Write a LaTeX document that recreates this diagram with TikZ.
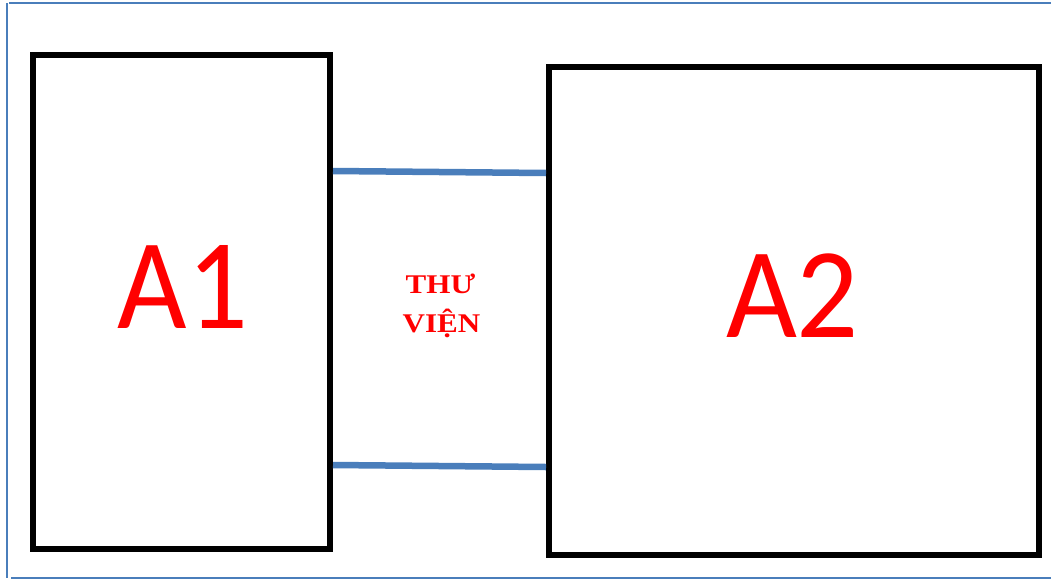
\documentclass[tikz,border=0pt]{standalone}
\usepackage{graphicx}
\usepackage{fontspec}
\newfontfamily\calfont{Carlito}
\newfontfamily\tnrfont{Liberation Serif}
\definecolor{frameblue}{RGB}{74,126,187}
\definecolor{txtred}{RGB}{255,0,0}
\tikzset{
  roombox/.style={draw=black, line width=6pt, inner sep=0pt, fill=white},
  biglabel/.style={text=txtred, font=\calfont\fontsize{129}{129}\selectfont, anchor=base, inner sep=0pt},
  smalllabel/.style={text=txtred, font=\tnrfont\bfseries\fontsize{27}{39}\selectfont, anchor=base, inner sep=0pt},
  corridor/.style={draw=frameblue, line width=6.5pt},
  frameline/.style={draw=frameblue, line width=2pt}
}
\begin{document}
\begin{tikzpicture}[x=1pt,y=-1pt]
\useasboundingbox (0,0) rectangle (1051,581);
% frame
\coordinate (fl1) at (7,3);
\coordinate (fl2) at (7,578);
\coordinate (ft1) at (9,3);
\coordinate (ft2) at (1051,3);
\coordinate (fb1) at (11,578);
\coordinate (fb2) at (1051,578);
\draw[frameline] (fl1) -- (fl2);
\draw[frameline] (ft1) -- (ft2);
\draw[frameline] (fb1) -- (fb2);
% rooms
\node[roombox, minimum width=297pt, minimum height=494pt] (a1) at (181.5,302) {};
\node[roombox, minimum width=490pt, minimum height=488pt] (a2) at (794,311) {};
% corridor lines
\coordinate (c1a) at (a1.east |- 0,171);
\coordinate (c1b) at (a2.west |- 0,173);
\coordinate (c2a) at (a1.east |- 0,465);
\coordinate (c2b) at (a2.west |- 0,467);
\draw[corridor] (c1a) -- (c1b);
\draw[corridor] (c2a) -- (c2b);
% labels
\node[biglabel] (t1) at (183,328) {\scalebox{0.93}[1]{A1}};
\node[biglabel] (t2) at (792.5,337) {\scalebox{0.95}[1]{A2}};
\node[smalllabel] (lib1) at (440.5,293) {\scalebox{1.15}[1]{THƯ}};
\node[smalllabel] (lib2) at (441.5,332) {\scalebox{1.15}[1]{VIỆN}};
\end{tikzpicture}
\end{document}
